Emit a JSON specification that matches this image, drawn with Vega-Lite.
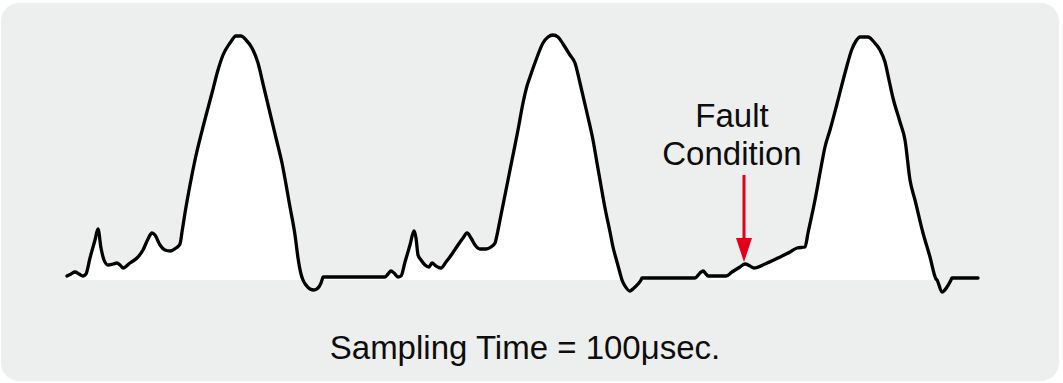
{
  "$schema": "https://vega.github.io/schema/vega-lite/v6.json",
  "width": 1063,
  "height": 383,
  "padding": 0,
  "autosize": {"type": "none"},
  "background": "#ffffff",
  "config": {"view": {"stroke": null}},
  "datasets": {
    "panel": [{"t1": 1, "t2": 1059, "v1": 277, "v2": -101}],
    "signal": [
      {"t":67,"v":4},{"t":71,"v":6},{"t":75,"v":8},{"t":79,"v":6},{"t":83,"v":4},{"t":86,"v":6},{"t":90,"v":22},{"t":95,"v":40},{"t":98,"v":51},{"t":101,"v":32},{"t":104,"v":20},{"t":108,"v":15},{"t":113,"v":16},{"t":117,"v":17},{"t":120,"v":15},{"t":123,"v":12},{"t":130,"v":17},{"t":137,"v":22},{"t":143,"v":30},{"t":148,"v":41},{"t":152,"v":47},{"t":155,"v":45},{"t":160,"v":35},{"t":165,"v":30},{"t":170,"v":29},{"t":176,"v":32},{"t":180,"v":36},{"t":182,"v":48},{"t":185,"v":67},{"t":190,"v":95},{"t":195,"v":120},{"t":203,"v":153},{"t":212,"v":187},{"t":218,"v":210},{"t":223,"v":225},{"t":230,"v":237},{"t":236,"v":244},{"t":241,"v":244},{"t":246,"v":240},{"t":252,"v":232},{"t":258,"v":217},{"t":264,"v":192},{"t":270,"v":167},{"t":276,"v":142},{"t":282,"v":117},{"t":287,"v":90},{"t":290,"v":73},{"t":295,"v":45},{"t":298,"v":22},{"t":301,"v":6},{"t":303,"v":0},{"t":306,"v":-5},{"t":310,"v":-9},{"t":314,"v":-10},{"t":318,"v":-8},{"t":321,"v":-3},{"t":322,"v":0},{"t":323,"v":3},
      {"t":385,"v":3},{"t":388,"v":6},{"t":391,"v":9},{"t":394,"v":7},{"t":398,"v":3},{"t":401,"v":4},{"t":405,"v":18},{"t":410,"v":35},{"t":414,"v":49},{"t":416,"v":42},{"t":418,"v":25},{"t":421,"v":20},{"t":425,"v":15},{"t":429,"v":13},{"t":432,"v":17},{"t":436,"v":14},{"t":441,"v":12},{"t":446,"v":18},{"t":452,"v":26},{"t":458,"v":35},{"t":463,"v":42},{"t":467,"v":47},{"t":471,"v":42},{"t":475,"v":35},{"t":480,"v":31},{"t":486,"v":31},{"t":491,"v":33},{"t":495,"v":37},{"t":497,"v":45},{"t":500,"v":60},{"t":503,"v":75},{"t":507,"v":95},{"t":512,"v":120},{"t":518,"v":150},{"t":523,"v":177},{"t":527,"v":194},{"t":530,"v":203},{"t":536,"v":220},{"t":543,"v":237},{"t":548,"v":243},{"t":553,"v":245},{"t":558,"v":243},{"t":563,"v":236},{"t":570,"v":225},{"t":575,"v":217},{"t":580,"v":197},{"t":587,"v":167},{"t":593,"v":140},{"t":597,"v":117},{"t":600,"v":100},{"t":605,"v":72},{"t":610,"v":48},{"t":613,"v":33},{"t":617,"v":18},{"t":620,"v":7},{"t":622,"v":0},{"t":625,"v":-6},{"t":630,"v":-11},{"t":634,"v":-8},{"t":638,"v":-4},{"t":641,"v":0},{"t":642,"v":2},
      {"t":695,"v":2},{"t":700,"v":7},{"t":703,"v":9},{"t":706,"v":6},{"t":708,"v":4},{"t":726,"v":4},{"t":732,"v":8},{"t":740,"v":13},{"t":745,"v":16},{"t":750,"v":14},{"t":754,"v":12},{"t":765,"v":16},{"t":778,"v":22},{"t":790,"v":28},{"t":797,"v":32},{"t":805,"v":33},{"t":808,"v":47},{"t":815,"v":80},{"t":820,"v":107},{"t":825,"v":133},{"t":830,"v":150},{"t":838,"v":180},{"t":845,"v":207},{"t":852,"v":231},{"t":856,"v":239},{"t":860,"v":243},{"t":868,"v":243},{"t":874,"v":238},{"t":880,"v":230},{"t":885,"v":218},{"t":889,"v":200},{"t":893,"v":182},{"t":900,"v":158},{"t":905,"v":140},{"t":910,"v":100},{"t":915,"v":80},{"t":923,"v":47},{"t":930,"v":23},{"t":936,"v":1},{"t":937,"v":0},{"t":942,"v":-12},{"t":947,"v":-7},{"t":951,"v":0},{"t":952,"v":2},{"t":978,"v":2}
    ],
    "labels": [
      {"t": 732, "v": 153, "label": "Fault"},
      {"t": 732, "v": 115, "label": "Condition"},
      {"t": 525, "v": -79, "label": "Sampling Time = 100μsec."}
    ],
    "arrow": [{"t": 744, "v1": 105, "v2": 40, "tip": 30}]
  },
  "layer": [
    {
      "data": {"name": "panel"},
      "mark": {"type": "rect", "fill": "#edeeee", "cornerRadius": 18},
      "encoding": {
        "x": {"field": "t1", "type": "quantitative", "scale": {"domain": [0, 1063], "nice": false, "zero": false}, "axis": null},
        "x2": {"field": "t2"},
        "y": {"field": "v1", "type": "quantitative", "scale": {"domain": [-103, 280], "nice": false, "zero": false}, "axis": null},
        "y2": {"field": "v2"}
      }
    },
    {
      "data": {"name": "signal"},
      "transform": [{"filter": "datum.v >= 0"}],
      "mark": {"type": "area", "fill": "#ffffff", "interpolate": "monotone"},
      "encoding": {
        "x": {"field": "t", "type": "quantitative", "scale": {"domain": [0, 1063], "nice": false, "zero": false}, "axis": null},
        "y": {"field": "v", "type": "quantitative", "scale": {"domain": [-103, 280], "nice": false, "zero": false}, "axis": null},
        "y2": {"datum": 0}
      }
    },
    {
      "data": {"name": "signal"},
      "mark": {"type": "line", "color": "#000000", "strokeWidth": 3.3, "interpolate": "monotone", "strokeJoin": "round", "strokeCap": "round"},
      "encoding": {
        "x": {"field": "t", "type": "quantitative", "scale": {"domain": [0, 1063], "nice": false, "zero": false}, "axis": null},
        "y": {"field": "v", "type": "quantitative", "scale": {"domain": [-103, 280], "nice": false, "zero": false}, "axis": null}
      }
    },
    {
      "data": {"name": "arrow"},
      "mark": {"type": "rule", "color": "#e2001a", "strokeWidth": 3},
      "encoding": {
        "x": {"field": "t", "type": "quantitative", "scale": {"domain": [0, 1063], "nice": false, "zero": false}, "axis": null},
        "y": {"field": "v1", "type": "quantitative", "scale": {"domain": [-103, 280], "nice": false, "zero": false}, "axis": null},
        "y2": {"field": "v2"}
      }
    },
    {
      "data": {"name": "arrow"},
      "mark": {"type": "point", "shape": "M-1,-1.5L1,-1.5L0,1.5Z", "size": 256, "filled": true, "fill": "#e2001a", "strokeWidth": 0, "opacity": 1},
      "encoding": {
        "x": {"field": "t", "type": "quantitative", "scale": {"domain": [0, 1063], "nice": false, "zero": false}, "axis": null},
        "y": {"field": "tip", "type": "quantitative", "scale": {"domain": [-103, 280], "nice": false, "zero": false}, "axis": null}
      }
    },
    {
      "data": {"name": "labels"},
      "mark": {"type": "text", "font": "Liberation Sans", "fontSize": 33, "color": "#0d0d0d", "align": "center", "baseline": "alphabetic"},
      "encoding": {
        "x": {"field": "t", "type": "quantitative", "scale": {"domain": [0, 1063], "nice": false, "zero": false}, "axis": null},
        "y": {"field": "v", "type": "quantitative", "scale": {"domain": [-103, 280], "nice": false, "zero": false}, "axis": null},
        "text": {"field": "label"}
      }
    }
  ]
}
